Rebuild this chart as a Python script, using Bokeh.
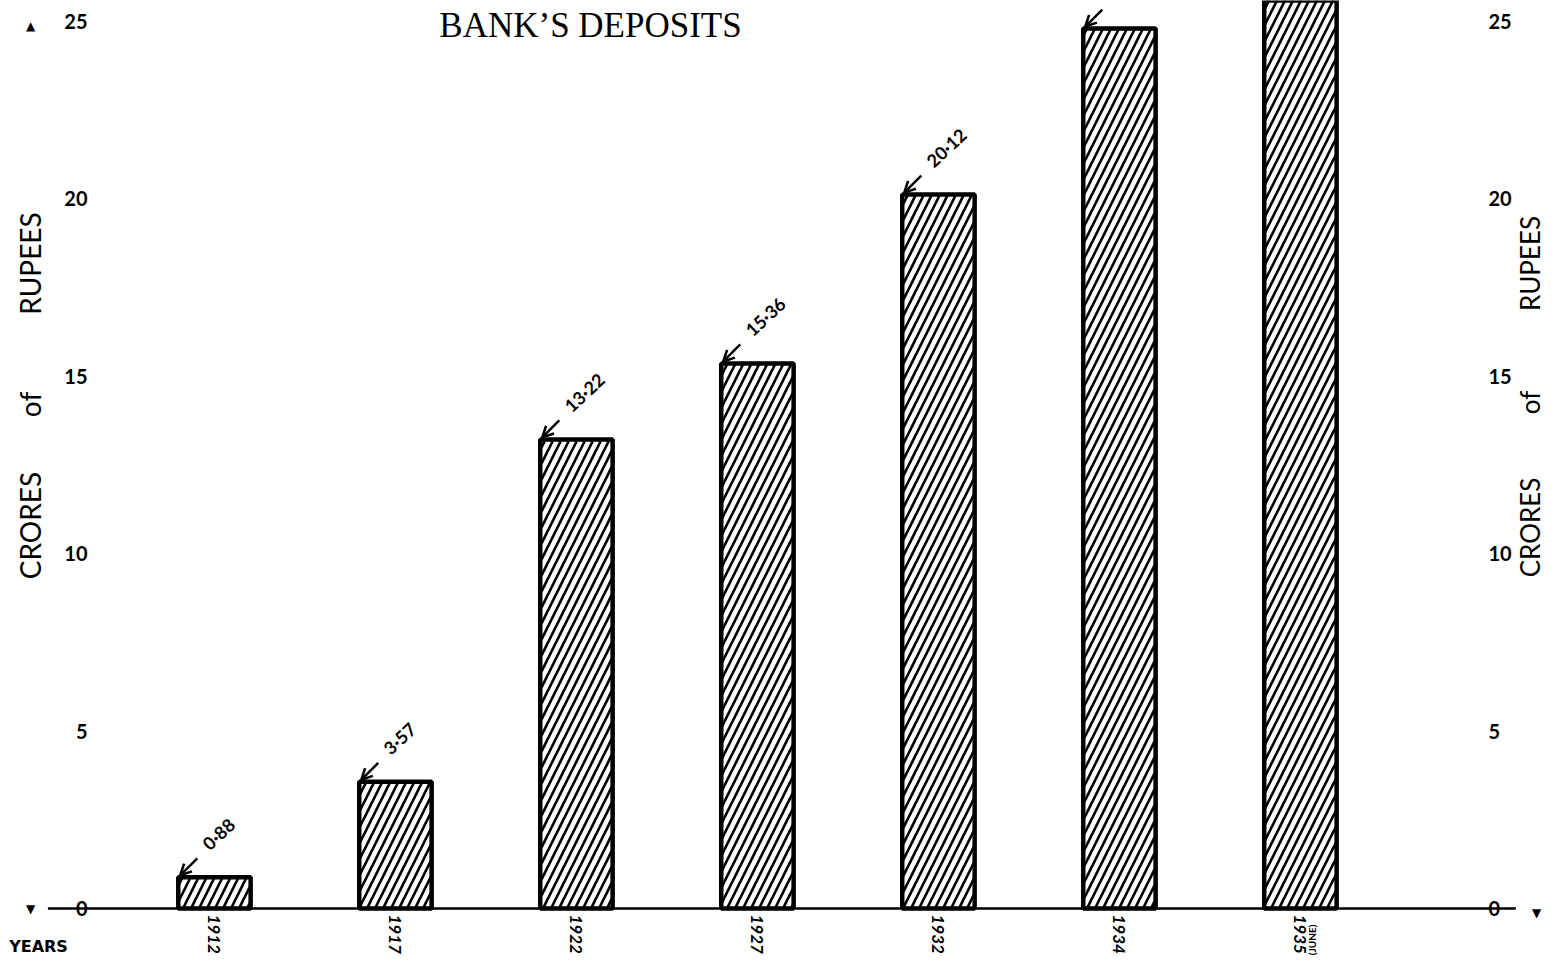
import math
from bokeh.plotting import figure
from bokeh.models import (Range1d, LinearAxis, FixedTicker, Label, Arrow,
                          OpenHead, ColumnDataSource)
from bokeh.core.properties import value
from bokeh.embed import file_html
from bokeh.resources import INLINE

# ---------------- data ----------------
years = ["1912", "1917", "1922", "1927", "1932", "1934", "1935"]
deposits = [0.88, 3.57, 13.22, 15.36, 20.12, 24.8, 26.9]   # crores of rupees
value_labels = ["0·88", "3·57", "13·22", "15·36", "20·12", "24·80", "26·90"]
y_ticks = [0, 5, 10, 15, 20, 25]
title_text = "BANK’S DEPOSITS"
axis_words = ["CRORES", "of", "RUPEES"]

# ---------------- figure ----------------
W, H = 1545, 956
X0, X1 = -1.182, 7.354          # frame covers the whole canvas
Y0, Y1 = -1.353, 25.59
BASE_X0, BASE_X1 = -0.92, 7.19  # extent of the drawn base line
BAR_W = 0.4

p = figure(width=W, height=H, output_backend="svg", toolbar_location=None,
           x_range=Range1d(X0, X1), y_range=Range1d(Y0, Y1),
           min_border_left=0, min_border_right=0, min_border_top=0,
           min_border_bottom=0)
p.outline_line_color = None
p.xgrid.visible = False
p.ygrid.visible = False
p.background_fill_color = "white"
p.border_fill_color = "white"

idx = list(range(len(years)))
src = ColumnDataSource(dict(x=idx, top=deposits, year=years))

# base line (zero level)
p.segment(x0=[BASE_X0], y0=[0], x1=[BASE_X1], y1=[0],
          line_color="black", line_width=2.5)

p.vbar(x="x", top="top", bottom=0, width=BAR_W, source=src,
       fill_color="white", line_color="black", line_width=4.5,
       hatch_pattern="/", hatch_color="black", hatch_weight=2.6,
       hatch_scale=16)

# value annotations
px_x = (X1 - X0) / W
px_y = (Y1 - Y0) / H
LABEL_ROOM = 62 * px_y          # vertical room a rotated value label needs
arr_x, arr_y = [], []
txt_x, txt_y, txt_t = [], [], []
for i, v, t in zip(idx, deposits, value_labels):
    if v < Y1:                       # bar top visible -> arrow
        arr_x.append(i - BAR_W / 2)
        arr_y.append(v)
        if v + LABEL_ROOM < Y1:      # label fits -> text
            txt_x.append(i - BAR_W / 2)
            txt_y.append(v)
            txt_t.append(t)
tsrc = ColumnDataSource(dict(x=txt_x, y=txt_y, t=txt_t))
asrc = ColumnDataSource(dict(
    xs=[a + 19 * px_x for a in arr_x], ys=[b + 19 * px_y for b in arr_y],
    xe=[a + 2 * px_x for a in arr_x], ye=[b + 2 * px_y for b in arr_y]))

p.text(x="x", y="y", text="t", source=tsrc, x_offset=27, y_offset=-31,
       angle=0.75, text_align="left", text_baseline="middle",
       text_font=value("Lato"), text_font_style="bold",
       text_font_size="18px", text_color="black")
p.add_layout(Arrow(x_start="xs", y_start="ys", x_end="xe", y_end="ye",
                   source=asrc, line_width=2.5, line_color="black",
                   end=OpenHead(size=11, line_width=2.5, line_color="black")))

# x axis (years)
xa = p.xaxis[0]
xa.ticker = FixedTicker(ticks=idx)
xa.major_label_overrides = {i: y for i, y in zip(idx, years)}
xa.major_label_orientation = "vertical"
xa.major_label_text_font = "Lato"
xa.major_label_text_font_style = "bold italic"
xa.major_label_text_font_size = "17px"
xa.major_label_text_color = "black"
xa.major_label_standoff = -42
xa.major_tick_in = 0
xa.major_tick_out = 0
xa.minor_tick_line_color = None
xa.axis_line_color = None

# y axes
def style_y(ax, standoff):
    ax.ticker = FixedTicker(ticks=y_ticks)
    ax.major_label_text_font = "Lato"
    ax.major_label_text_font_style = "bold"
    ax.major_label_text_font_size = "20px"
    ax.major_label_text_color = "black"
    ax.major_label_standoff = standoff
    ax.major_tick_line_color = None
    ax.minor_tick_line_color = None
    ax.axis_line_color = None

style_y(p.yaxis[0], -93)
ra = LinearAxis()
style_y(ra, -63)
p.add_layout(ra, "right")

# texts (screen units are measured from the frame's bottom-left corner)
def S(cx, cy):
    return cx, H - cy

tx, ty = S(590, 25)
p.add_layout(Label(x=tx, y=ty, x_units="screen", y_units="screen",
                   text=title_text, text_align="center",
                   text_baseline="middle", text_font="Liberation Serif",
                   text_font_size="35px", text_color="black"))

word_y_left = [525, 404, 263]
word_y_right = [527, 402, 263]
for word, yl, yr in zip(axis_words, word_y_left, word_y_right):
    for cx, cy, fs in ((29, yl, "28px"), (1529, yr, "26px")):
        lx, ly = S(cx, cy)
        p.add_layout(Label(x=lx, y=ly, x_units="screen", y_units="screen",
                           text=word, angle=math.pi / 2,
                           text_align="center", text_baseline="middle",
                           text_font="Lato", text_font_size=fs,
                           text_color="black"))

yx, yy = S(38, 946)
p.add_layout(Label(x=yx, y=yy, x_units="screen", y_units="screen",
                   text="YEARS", text_align="center", text_baseline="middle",
                   text_font="DejaVu Sans", text_font_style="bold",
                   text_font_size="16px", text_color="black"))
_, jy = S(0, 924)
p.add_layout(Label(x=6, y=jy, x_units="data", y_units="screen", x_offset=12,
                   text="(JUNE)", angle=math.pi / 2, text_align="right",
                   text_baseline="middle", text_font="Lato",
                   text_font_style="bold", text_font_size="10px",
                   text_color="black"))
for cx, cy, ch in ((30, 25, "▲"), (30, 908, "▼"), (1536, 912, "▼")):
    lx, ly = S(cx, cy)
    p.add_layout(Label(x=lx, y=ly, x_units="screen", y_units="screen",
                       text=ch, text_align="center", text_baseline="middle",
                       text_font="DejaVu Sans", text_font_size="12px",
                       text_color="black"))

open("out.html", "w").write(file_html(p, INLINE))
